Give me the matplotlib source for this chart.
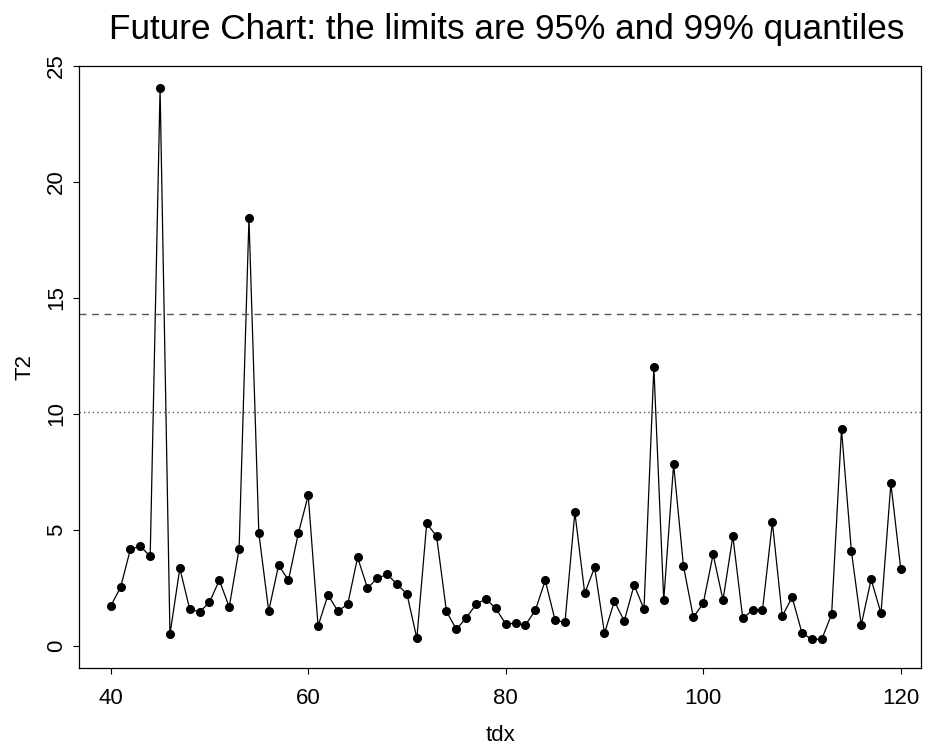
import matplotlib
matplotlib.use("Agg")
import matplotlib.pyplot as plt
import numpy as np

plt.rcParams['font.family'] = ['Liberation Sans', 'DejaVu Sans']

tdx = list(range(40, 121))
t2 = [1.72, 2.53, 4.18, 4.30, 3.87, 24.04, 0.50, 3.35, 1.59, 1.47,
      1.88, 2.84, 1.68, 4.18, 18.44, 4.86, 1.51, 3.48, 2.84, 4.86,
      6.49, 0.86, 2.20, 1.51, 1.80, 3.82, 2.50, 2.92, 3.09, 2.66,
      2.24, 0.33, 5.29, 4.73, 1.49, 0.72, 1.21, 1.80, 2.03, 1.62,
      0.95, 0.98, 0.91, 1.54, 2.83, 1.11, 1.02, 5.76, 2.27, 3.39,
      0.55, 1.93, 1.08, 2.63, 1.59, 12.01, 1.98, 7.83, 3.44, 1.24,
      1.84, 3.95, 1.98, 4.73, 1.19, 1.55, 1.55, 5.33, 1.29, 2.10,
      0.56, 0.29, 0.29, 1.37, 9.34, 4.09, 0.91, 2.87, 1.41, 7.01,
      3.32]
ucl99 = 14.32
ucl95 = 10.07

fig = plt.figure(figsize=(9.32, 7.46), dpi=100)
ax = fig.add_axes([79/932, (746-668.3)/746, (921-79)/932, (668.3-66)/746])

ax.plot(tdx, t2, color='black', lw=0.9, marker='o', ms=5.5,
        markerfacecolor='black', markeredgecolor='black')
ax.axhline(ucl99, color='#555555', lw=1.0, dashes=(5, 4))
ax.axhline(ucl95, color='#555555', lw=1.0, dashes=(1, 2.2))

ax.set_xlim(36.79, 122.05)
ax.set_ylim(-0.96, 25.0)
ax.set_xticks([40, 60, 80, 100, 120])
ax.set_yticks([0, 5, 10, 15, 20, 25])

ax.tick_params(axis='both', direction='out', length=4.5, width=0.8,
               labelsize=16)
ax.tick_params(axis='x', pad=10)
ax.tick_params(axis='y', pad=4)
for lab in ax.get_yticklabels():
    lab.set_rotation(90)
    lab.set_va('center')

for s in ax.spines.values():
    s.set_linewidth(0.9)

ax.set_xlabel('tdx', fontsize=16, labelpad=11)
ax.set_ylabel('T2', fontsize=16, labelpad=8)
fig.text(0.544, 0.96, 'Future Chart: the limits are 95% and 99% quantiles',
         ha='center', va='center', fontsize=25.3)

fig.savefig('out.png', dpi=100)
